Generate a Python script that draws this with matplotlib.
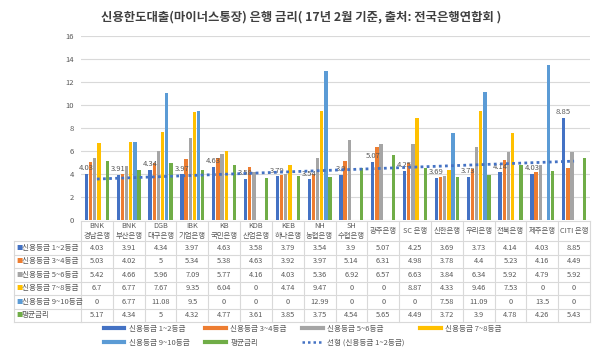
import matplotlib
matplotlib.use("Agg")
import matplotlib.pyplot as plt
import matplotlib.transforms as mtransforms
from matplotlib.lines import Line2D
import numpy as np

plt.rcParams['font.family'] = ['Noto Sans CJK KR', 'DejaVu Sans']

banks = ["BNK\n경남은행", "BNK\n부산은행", "DGB\n대구은행", "IBK\n기업은행", "KB\n국민은행",
         "KDB\n산업은행", "KEB\n하나은행", "NH\n농협은행", "SH\n수협은행", "광주은행",
         "SC 은행", "신한은행", "우리은행", "전북은행", "제주은행", "CITI 은행"]

grade_1_2 = [4.03, 3.91, 4.34, 3.97, 4.63, 3.58, 3.79, 3.54, 3.9, 5.07, 4.25, 3.69, 3.73, 4.14, 4.03, 8.85]
grade_3_4 = [5.03, 4.02, 5, 5.34, 5.38, 4.63, 3.92, 3.97, 5.14, 6.31, 4.98, 3.78, 4.4, 5.23, 4.16, 4.49]
grade_5_6 = [5.42, 4.66, 5.96, 7.09, 5.77, 4.16, 4.03, 5.36, 6.92, 6.57, 6.63, 3.84, 6.34, 5.92, 4.79, 5.92]
grade_7_8 = [6.7, 6.77, 7.67, 9.35, 6.04, 0, 4.74, 9.47, 0, 0, 8.87, 4.33, 9.46, 7.53, 0, 0]
grade_9_10 = [0, 6.77, 11.08, 9.5, 0, 0, 0, 12.99, 0, 0, 0, 7.58, 11.09, 0, 13.5, 0]
average = [5.17, 4.34, 5, 4.32, 4.77, 3.61, 3.85, 3.75, 4.54, 5.65, 4.49, 3.72, 3.9, 4.78, 4.26, 5.43]

names = ["신용등급 1~2등급", "신용등급 3~4등급", "신용등급 5~6등급",
         "신용등급 7~8등급", "신용등급 9~10등급", "평균금리"]
series = [grade_1_2, grade_3_4, grade_5_6, grade_7_8, grade_9_10, average]
colors = ["#4472C4", "#ED7D31", "#A5A5A5", "#FFC000", "#5B9BD5", "#70AD47"]
trend_name = "선형 (신용등급 1~2등급)"

W, H = 602, 353
fig = plt.figure(figsize=(W / 100, H / 100), dpi=100)
ax = fig.add_axes([81 / W, 1 - 220 / H, 509 / W, 184 / H])
# overlay axes in pixel units for the table
tab = fig.add_axes([0, 0, 1, 1], zorder=-1)
tab.set_xlim(0, W)
tab.set_ylim(H, 0)
tab.axis("off")

x = np.arange(len(banks))
slot = 0.131
bw = 0.105
for i, (vals, c) in enumerate(zip(series, colors)):
    ax.bar(x + (i - 2.5) * slot, vals, width=bw, color=c, zorder=3)

for xi, v in zip(x, grade_1_2):
    ax.text(xi - 2.5 * slot, v + 0.15, f"{v:g}", ha="center", va="bottom",
            fontsize=5.5, color="#595959", zorder=4)

coef = np.polyfit(x, grade_1_2, 1)
ax.plot(x, np.polyval(coef, x), linestyle=(0, (1, 1.2)), color="#4472C4",
        lw=2, zorder=5)

ax.set_xlim(-0.5, len(banks) - 0.5)
ax.set_ylim(0, 16)
ax.set_yticks(range(0, 17, 2))
ax.set_xticks([])
ax.tick_params(axis="y", length=0, labelsize=5.5, labelcolor="#595959", pad=5)
for s in ax.spines.values():
    s.set_visible(False)
ax.grid(axis="y", color="#D9D9D9", lw=0.8, zorder=0)
ax.patch.set_alpha(0)

fig.text(0.5, 1 - 17 / H, "신용한도대출(마이너스통장) 은행 금리( 17년 2월 기준, 출처: 전국은행연합회 )",
         ha="center", va="center", fontsize=8.9, color="#404040", fontweight="bold")

# data table
bt = mtransforms.blended_transform_factory(ax.transData, tab.transData)
gc = "#D9D9D9"
tc = "#595959"
top, head_bot = 221, 241
rh = 13.5
rows_y = [head_bot + rh * k for k in range(len(series) + 1)]
left = 14
xl, xr = -0.5, len(banks) - 0.5
tab.plot([xl, xr], [top, top], color=gc, lw=0.8, transform=bt, clip_on=False)
for yy in rows_y:
    tab.plot([left, 81], [yy, yy], color=gc, lw=0.8)
    tab.plot([xl, xr], [yy, yy], color=gc, lw=0.8, transform=bt, clip_on=False)
tab.plot([left, left], [head_bot, rows_y[-1]], color=gc, lw=0.8)
for k in range(len(banks) + 1):
    tab.plot([k - 0.5, k - 0.5], [top, rows_y[-1]], color=gc, lw=0.8,
             transform=bt, clip_on=False)
for k, b in enumerate(banks):
    tab.text(k, (top + head_bot) / 2, b, ha="center", va="center", fontsize=5.3,
             color=tc, transform=bt, linespacing=1.3)
for r, (nm, vals, c) in enumerate(zip(names, series, colors)):
    yc = rows_y[r] + rh / 2
    tab.text(16, yc, "■", ha="left", va="center", fontsize=4.5, color=c)
    tab.text(22, yc, nm, ha="left", va="center", fontsize=5.5, color=tc)
    for k, v in enumerate(vals):
        tab.text(k, yc, f"{v:g}", ha="center", va="center", fontsize=5.3,
                 color=tc, transform=bt)

handles = [Line2D([], [], color=c, lw=3) for c in colors]
handles.append(Line2D([], [], color="#4472C4", lw=1.8, linestyle=(0, (1, 1.2))))
labels = names + [trend_name]
order = [0, 4, 1, 5, 2, 6, 3]
leg = fig.legend([handles[i] for i in order], [labels[i] for i in order], ncol=4,
                 loc="upper left", bbox_to_anchor=(103 / W, 1 - 324 / H), frameon=False,
                 fontsize=5.5, handlelength=2.7, columnspacing=2.0, labelspacing=0.8,
                 handletextpad=0.6, borderpad=0.1, borderaxespad=0)
for t in leg.get_texts():
    t.set_color(tc)

fig.savefig("out.png", dpi=100)
